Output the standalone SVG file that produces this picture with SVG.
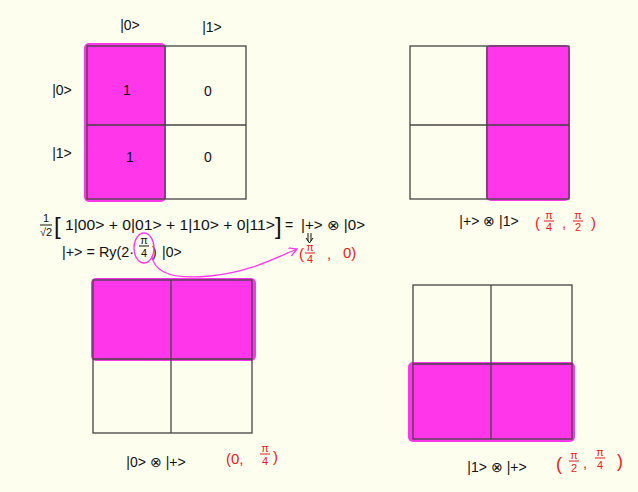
<svg xmlns="http://www.w3.org/2000/svg" width="638" height="492" viewBox="0 0 638 492">
<style>
.bg{fill:#fdfeee}
.hl{fill:#ff36ea}
.grid{fill:none;stroke:#444;stroke-width:1.3}
.t{font-family:"Liberation Sans",Arial,sans-serif;font-size:14px;fill:#111}
.r{font-family:"Liberation Sans",Arial,sans-serif;font-size:15px;fill:#f01818}
.s{font-size:11px}
.b{font-size:24px}
.fl{stroke:#111;stroke-width:1}
.flr{stroke:#f01818;stroke-width:1}
.con{fill:none;stroke:#ff36ea;stroke-width:1.3}
</style>
<defs>
<marker id="ah" viewBox="0 0 10 10" refX="9" refY="5" markerWidth="7" markerHeight="7" orient="auto"><path d="M0,0 L9,5 L0,10" fill="none" stroke="#ff36ea" stroke-width="1.5"/></marker>
</defs>
<rect class="bg" x="0" y="0" width="638" height="492"/>

<g id="grid-top-left">
<rect class="hl" x="84" y="43" width="82" height="159" rx="5"/>
<rect class="grid" x="87" y="46" width="159" height="153"/>
<line class="grid" x1="165" y1="46" x2="165" y2="199"/>
<line class="grid" x1="87" y1="125" x2="246" y2="125"/>
<text class="t" x="130" y="30" text-anchor="middle">|0&gt;</text>
<text class="t" x="212" y="32" text-anchor="middle">|1&gt;</text>
<text class="t" x="62" y="95" text-anchor="middle">|0&gt;</text>
<text class="t" x="62" y="158" text-anchor="middle">|1&gt;</text>
<text class="t" x="127" y="95" text-anchor="middle">1</text>
<text class="t" x="208" y="96" text-anchor="middle">0</text>
<text class="t" x="130" y="162" text-anchor="middle">1</text>
<text class="t" x="208" y="162" text-anchor="middle">0</text>
</g>

<g id="grid-top-right">
<rect class="hl" x="486" y="45" width="84" height="156" rx="5"/>
<rect class="grid" x="410" y="46" width="159" height="153"/>
<line class="grid" x1="487" y1="46" x2="487" y2="199"/>
<line class="grid" x1="410" y1="125" x2="569" y2="125"/>
<text class="t" x="489" y="226" text-anchor="middle">|+&gt; ⊗ |1&gt;</text>
<g id="label-tr">
<text class="r" x="535" y="228">(</text>
<text class="r s" x="549" y="219" text-anchor="middle">π</text>
<line class="flr" x1="544" y1="221" x2="554" y2="221"/>
<text class="r s" x="549" y="231" text-anchor="middle">4</text>
<text class="r" x="562" y="228">,</text>
<text class="r s" x="578" y="219" text-anchor="middle">π</text>
<line class="flr" x1="573" y1="221" x2="583" y2="221"/>
<text class="r s" x="578" y="231" text-anchor="middle">2</text>
<text class="r" x="591" y="228">)</text>
</g>
</g>

<g id="grid-bottom-left">
<rect class="hl" x="91" y="278" width="165" height="83" rx="5"/>
<rect class="grid" x="93" y="280" width="159" height="153"/>
<line class="grid" x1="171" y1="280" x2="171" y2="433"/>
<line class="grid" x1="93" y1="359" x2="252" y2="359"/>
<text class="t" x="156" y="467" text-anchor="middle">|0&gt; ⊗ |+&gt;</text>
<g id="label-bl">
<text class="r" x="226" y="464">(0,</text>
<text class="r s" x="265" y="452" text-anchor="middle">π</text>
<line class="flr" x1="260" y1="454" x2="270" y2="454"/>
<text class="r s" x="265" y="465" text-anchor="middle">4</text>
<text class="r" x="273" y="462">)</text>
</g>
</g>

<g id="grid-bottom-right">
<rect class="hl" x="408" y="362" width="167" height="80" rx="5"/>
<rect class="grid" x="413" y="285" width="159" height="154"/>
<line class="grid" x1="491" y1="285" x2="491" y2="439"/>
<line class="grid" x1="413" y1="364" x2="572" y2="364"/>
<text class="t" x="497" y="472" text-anchor="middle">|1&gt; ⊗ |+&gt;</text>
<g id="label-br">
<text class="r" x="556" y="470" style="font-size:18px">(</text>
<text class="r s" x="574" y="459" text-anchor="middle">π</text>
<line class="flr" x1="569" y1="461" x2="579" y2="461"/>
<text class="r s" x="574" y="472" text-anchor="middle">2</text>
<text class="r" x="583" y="468">,</text>
<text class="r s" x="600" y="456" text-anchor="middle">π</text>
<line class="flr" x1="595" y1="458" x2="605" y2="458"/>
<text class="r s" x="600" y="469" text-anchor="middle">4</text>
<text class="r" x="617" y="467" style="font-size:18px">)</text>
</g>
</g>

<g id="equation">
<text class="t s" x="46" y="222" text-anchor="middle">1</text>
<line class="fl" x1="40" y1="225" x2="52" y2="225"/>
<text class="t s" x="46" y="236" text-anchor="middle">√2</text>
<text class="t b" x="54" y="234">[</text>
<text class="t" x="65" y="230" textLength="210" lengthAdjust="spacingAndGlyphs">1|00&gt; + 0|01&gt; + 1|10&gt; + 0|11&gt;</text>
<text class="t b" x="275" y="234">]</text>
<text class="t" x="285" y="230">=</text>
<text class="t" x="301" y="230" textLength="64" lengthAdjust="spacingAndGlyphs">|+&gt; ⊗ |0&gt;</text>
<text class="t" x="62" y="257" textLength="72" lengthAdjust="spacingAndGlyphs">|+&gt; = Ry(2·</text>
<text class="t s" x="144" y="244" text-anchor="middle">π</text>
<line class="fl" x1="139" y1="246" x2="149" y2="246"/>
<text class="t s" x="144" y="257" text-anchor="middle">4</text>
<text class="t" x="152" y="257">)</text>
<text class="t" x="162" y="257">|0&gt;</text>
</g>
<g id="result">
<text class="r" x="299" y="259">(</text>
<text class="r s" x="310" y="251" text-anchor="middle">π</text>
<line class="flr" x1="305" y1="253" x2="315" y2="253"/>
<text class="r s" x="310" y="263" text-anchor="middle">4</text>
<text class="r" x="327" y="259">,</text>
<text class="r" x="343" y="258">0)</text>
</g>

<g id="connectors">
<ellipse class="con" cx="144" cy="248" rx="10" ry="15"/>
<path class="con" d="M152,256 C154,272 170,280 210,276 C250,272 275,258 297,249" marker-end="url(#ah)"/>
<path fill="none" stroke="#111" stroke-width="1" d="M308,233 L308,241 M311,233 L311,241 M306,238 L309.5,243 L313,238"/>
</g>
</svg>
